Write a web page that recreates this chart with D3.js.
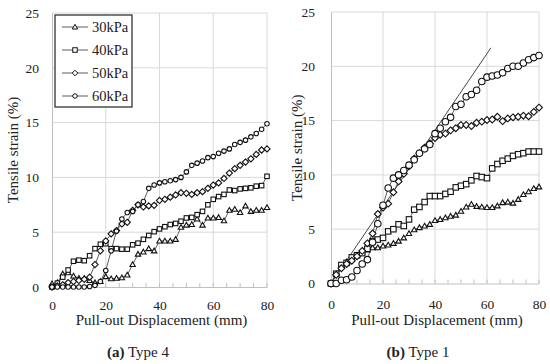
<!DOCTYPE html>
<html>
<head>
<meta charset="utf-8">
<script src="https://cdn.jsdelivr.net/npm/d3@7"></script>
<style>
  body { margin: 0; background: #fff; }
  svg text { font-family: "Liberation Serif", "Times New Roman", Times, serif; fill: #222; }
</style>
</head>
<body>
<div id="chart"></div>
<script>
// pull-out displacement (mm), same for every series
const disp = [0, 2, 4, 6, 8, 10, 12, 14, 16, 18, 20, 22, 24, 26, 28, 30, 32, 34, 36, 38, 40,
  42, 44, 46, 48, 50, 52, 54, 56, 58, 60, 62, 64, 66, 68, 70, 72, 74, 76, 78, 80];

const seriesNames = ["30kPa", "40kPa", "50kPa", "60kPa"];
const xTicks = [0, 20, 40, 60, 80];
const yTicks = [0, 5, 10, 15, 20, 25];

// (a) Type 4 - tensile strain (%)
const t4_30 = [0.3, 0.4, 1.2, 1.3, 1.0, 0.8, 0.8, 0.6, 0.4, 0.5, 0.95, 0.75, 0.8, 0.85, 1.1, 2.05, 3.0, 3.2, 3.5, 3.3, 4.2,
  4.2, 4.2, 4.35, 5.45, 5.65, 5.7, 6.2, 5.65, 6.3, 6.3, 6.35, 6.05, 7.0, 7.1, 6.8, 7.4, 6.9, 7.0, 7.0, 7.25];
const t4_40 = [0, 0.35, 0.9, 1.55, 2.35, 2.45, 2.4, 2.85, 3.5, 3.9, 3.95, 3.5, 3.5, 3.45, 3.45, 3.85, 4.0, 4.35, 4.7, 5.05, 5.3,
  5.5, 5.7, 5.8, 6.0, 6.3, 6.35, 6.6, 6.9, 7.5, 8.0, 8.25, 8.45, 8.85, 8.8, 8.95, 9.0, 9.05, 9.2, 9.25, 10.1];
const t4_50 = [0, 0.1, 0.2, 0.4, 0.5, 0.6, 0.7, 0.9, 2.05, 3.3, 4.2, 4.85, 5.15, 5.75, 5.9, 7.0, 7.5, 7.3, 7.4, 7.45, 7.9,
  8.0, 8.2, 8.4, 8.6, 8.55, 8.45, 8.6, 8.7, 9.0, 9.3, 9.5, 9.9, 10.4, 10.8, 11.1, 11.4, 11.7, 12.1, 12.5, 12.6];
const t4_60 = [0, 0, 0, 0, 0, 0, 0, 0.05, 0.15, 0.5, 1.5, 3.3, 5.1, 6.2, 6.8, 6.9, 7.5, 7.8, 9.0, 9.3, 9.5,
  9.6, 9.7, 9.8, 10.0, 10.5, 11.1, 11.3, 11.5, 11.8, 11.9, 12.2, 12.4, 12.6, 13.0, 13.2, 13.4, 13.7, 14.0, 14.4, 14.9];

// (b) Type 1 - tensile strain (%)
const t1_30 = [0, 0.9, 1.6, 2.0, 2.3, 2.6, 2.9, 3.1, 3.3, 3.3, 3.45, 3.55, 3.7, 3.9, 4.2, 4.6, 4.95, 5.15, 5.3, 5.45, 5.8,
  5.9, 6.05, 6.2, 6.3, 6.65, 7.05, 7.3, 7.1, 7.05, 7.0, 7.0, 7.15, 7.45, 7.5, 7.4, 7.75, 8.2, 8.45, 8.75, 8.9];
const t1_40 = [0, 0.9, 1.7, 1.9, 2.4, 2.6, 2.8, 3.2, 3.9, 4.05, 4.2, 4.8, 5.0, 5.45, 5.3, 5.9, 6.8, 7.05, 7.5, 8.05, 8.05,
  8.05, 8.25, 8.45, 8.85, 9.0, 9.15, 9.5, 9.9, 9.8, 9.7, 10.6, 11.0, 11.3, 11.5, 11.75, 11.9, 12.0, 12.15, 12.15, 12.15];
const t1_50 = [0, 0.8, 1.4, 1.8, 2.1, 2.5, 3.0, 3.7, 4.6, 6.4, 7.0, 7.35, 8.4, 9.4, 10.1, 10.8, 11.5, 12.0, 12.5, 12.9, 13.4,
  13.7, 13.8, 14.1, 14.3, 14.6, 14.6, 14.5, 14.8, 14.9, 15.05, 15.1, 15.35, 14.95, 15.2, 15.3, 15.35, 15.45, 15.4, 15.8, 16.2];
const t1_60 = [0, 0, 0.3, 0.35, 0.6, 1.2, 1.8, 2.2, 3.8, 5.5, 7.2, 8.8, 9.7, 10.0, 10.4, 10.9, 11.4, 12.0, 12.4, 12.8, 13.8,
  14.3, 14.9, 15.3, 16.3, 16.5, 17.2, 17.4, 17.8, 18.6, 19.0, 19.1, 19.2, 19.4, 19.8, 20.0, 20.0, 20.3, 20.6, 20.8, 21.0];

// linear trend line drawn on Type 1
const trendX = [0, 61.5];
const trendY = [0, 21.7];

const W = 550, H = 364;
const svg = d3.select("#chart").append("svg")
    .attr("width", W)
    .attr("height", H);

const shapes = ["triangle", "square", "diamond", "circle"];

// draws one open marker centred on 0,0
function marker(sel, shape, s) {
  if (shape === "circle") {
    sel.append("circle").attr("r", s / 2);
  } else if (shape === "square") {
    sel.append("rect").attr("x", -s / 2).attr("y", -s / 2).attr("width", s).attr("height", s);
  } else if (shape === "diamond") {
    const r = s * 0.62;
    sel.append("path").attr("d", `M0,${-r}L${r},0L0,${r}L${-r},0Z`);
  } else {
    const r = s * 0.6;
    sel.append("path").attr("d", `M0,${-r}L${r},${r * 0.75}L${-r},${r * 0.75}Z`);
  }
}

function drawPanel(box, data, opt) {
  const x = d3.scaleLinear().domain([0, 80]).range([box.left, box.right]);
  const y = d3.scaleLinear().domain([0, 25]).range([box.bottom, box.top]);
  const g = svg.append("g");

  // grid
  g.append("g").selectAll("line").data(yTicks.slice(1)).join("line")
      .attr("x1", box.left).attr("x2", box.right)
      .attr("y1", d => y(d)).attr("y2", d => y(d))
      .attr("stroke", "#d9d9d9").attr("stroke-width", 1);
  g.append("g").selectAll("line").data(xTicks.slice(1)).join("line")
      .attr("x1", d => x(d)).attr("x2", d => x(d))
      .attr("y1", box.top).attr("y2", box.bottom)
      .attr("stroke", "#d9d9d9").attr("stroke-width", 1);

  // axes
  const xAxis = d3.axisBottom(x).tickValues(xTicks).tickSize(0).tickPadding(opt.xPad);
  const gx = g.append("g").attr("transform", `translate(0,${box.bottom})`).call(xAxis);
  gx.select(".domain").attr("stroke", "#bfbfbf");
  gx.selectAll("text").attr("font-size", 13.5).attr("font-family", null);

  // minor ticks every 5 mm, pointing inward
  g.append("g").selectAll("line").data(d3.range(0, 81, 5)).join("line")
      .attr("x1", d => x(d)).attr("x2", d => x(d))
      .attr("y1", box.bottom).attr("y2", box.bottom - 4)
      .attr("stroke", "#bfbfbf");

  const yAxis = d3.axisLeft(y).tickValues(yTicks).tickSize(0).tickPadding(opt.yPad);
  const gy = g.append("g").attr("transform", `translate(${box.left},0)`).call(yAxis);
  gy.select(".domain").attr("stroke", "#bfbfbf");
  gy.selectAll("text").attr("font-size", 13.5).attr("font-family", null);

  // axis titles
  g.append("text")
      .attr("x", (box.left + box.right) / 2 + 2).attr("y", 325)
      .attr("text-anchor", "middle").attr("font-size", 15)
      .text("Pull-out Displacement (mm)");
  g.append("text")
      .attr("transform", `translate(${opt.yLabX},${(box.top + box.bottom) / 2}) rotate(-90)`)
      .attr("text-anchor", "middle").attr("font-size", 15)
      .text("Tensile strain (%)");

  // caption
  const cap = g.append("text")
      .attr("x", opt.capX).attr("y", 357)
      .attr("text-anchor", "middle").attr("font-size", 15);
  cap.append("tspan").attr("font-weight", "bold").text(opt.tag);
  cap.append("tspan").text(" " + opt.caption);

  if (opt.trend) {
    g.append("line")
        .attr("x1", x(trendX[0])).attr("y1", y(trendY[0]))
        .attr("x2", x(trendX[1])).attr("y2", y(trendY[1]))
        .attr("stroke", "#333").attr("stroke-width", 0.9);
  }

  const line = d3.line().x((d, i) => x(disp[i])).y(d => y(d));

  data.forEach((vals, k) => {
    g.append("path")
        .attr("d", line(vals))
        .attr("fill", "none")
        .attr("stroke", "#333")
        .attr("stroke-width", 0.8);
  });
  data.forEach((vals, k) => {
    const pts = g.append("g")
        .attr("fill", "#fff").attr("stroke", "#111").attr("stroke-width", 1.1);
    vals.forEach((v, i) => {
      const m = pts.append("g").attr("transform", `translate(${x(disp[i])},${y(v)})`);
      marker(m, shapes[k], opt.sizes[k]);
    });
  });
  return { x, y };
}

drawPanel({ left: 52, right: 267, top: 13, bottom: 287 },
  [t4_30, t4_40, t4_50, t4_60],
  { tag: "(a)", caption: "Type 4", capX: 138, sizes: [4.5, 4.5, 5, 4.5],
    xPad: 13, yPad: 13, yLabX: 18 });

drawPanel({ left: 331, right: 539, top: 12, bottom: 283.5 },
  [t1_30, t1_40, t1_50, t1_60],
  { tag: "(b)", caption: "Type 1", capX: 418, sizes: [4.5, 5.5, 5.5, 6.5], trend: true,
    xPad: 16, yPad: 16, yLabX: 302 });

// legend for panel (a)
const lg = svg.append("g").attr("transform", "translate(55,15)");
lg.append("rect")
    .attr("width", 77).attr("height", 92)
    .attr("fill", "#fff").attr("stroke", "#222").attr("stroke-width", 1.2);
seriesNames.forEach((name, k) => {
  const row = lg.append("g").attr("transform", `translate(0,${12 + k * 23})`);
  row.append("line").attr("x1", 7).attr("x2", 33).attr("stroke", "#333").attr("stroke-width", 0.8);
  const m = row.append("g").attr("transform", "translate(20,0)")
      .attr("fill", "#fff").attr("stroke", "#111");
  marker(m, shapes[k], 4.5);
  row.append("text").attr("x", 37).attr("y", 5).attr("font-size", 14.5).text(name);
});
</script>
</body>
</html>
